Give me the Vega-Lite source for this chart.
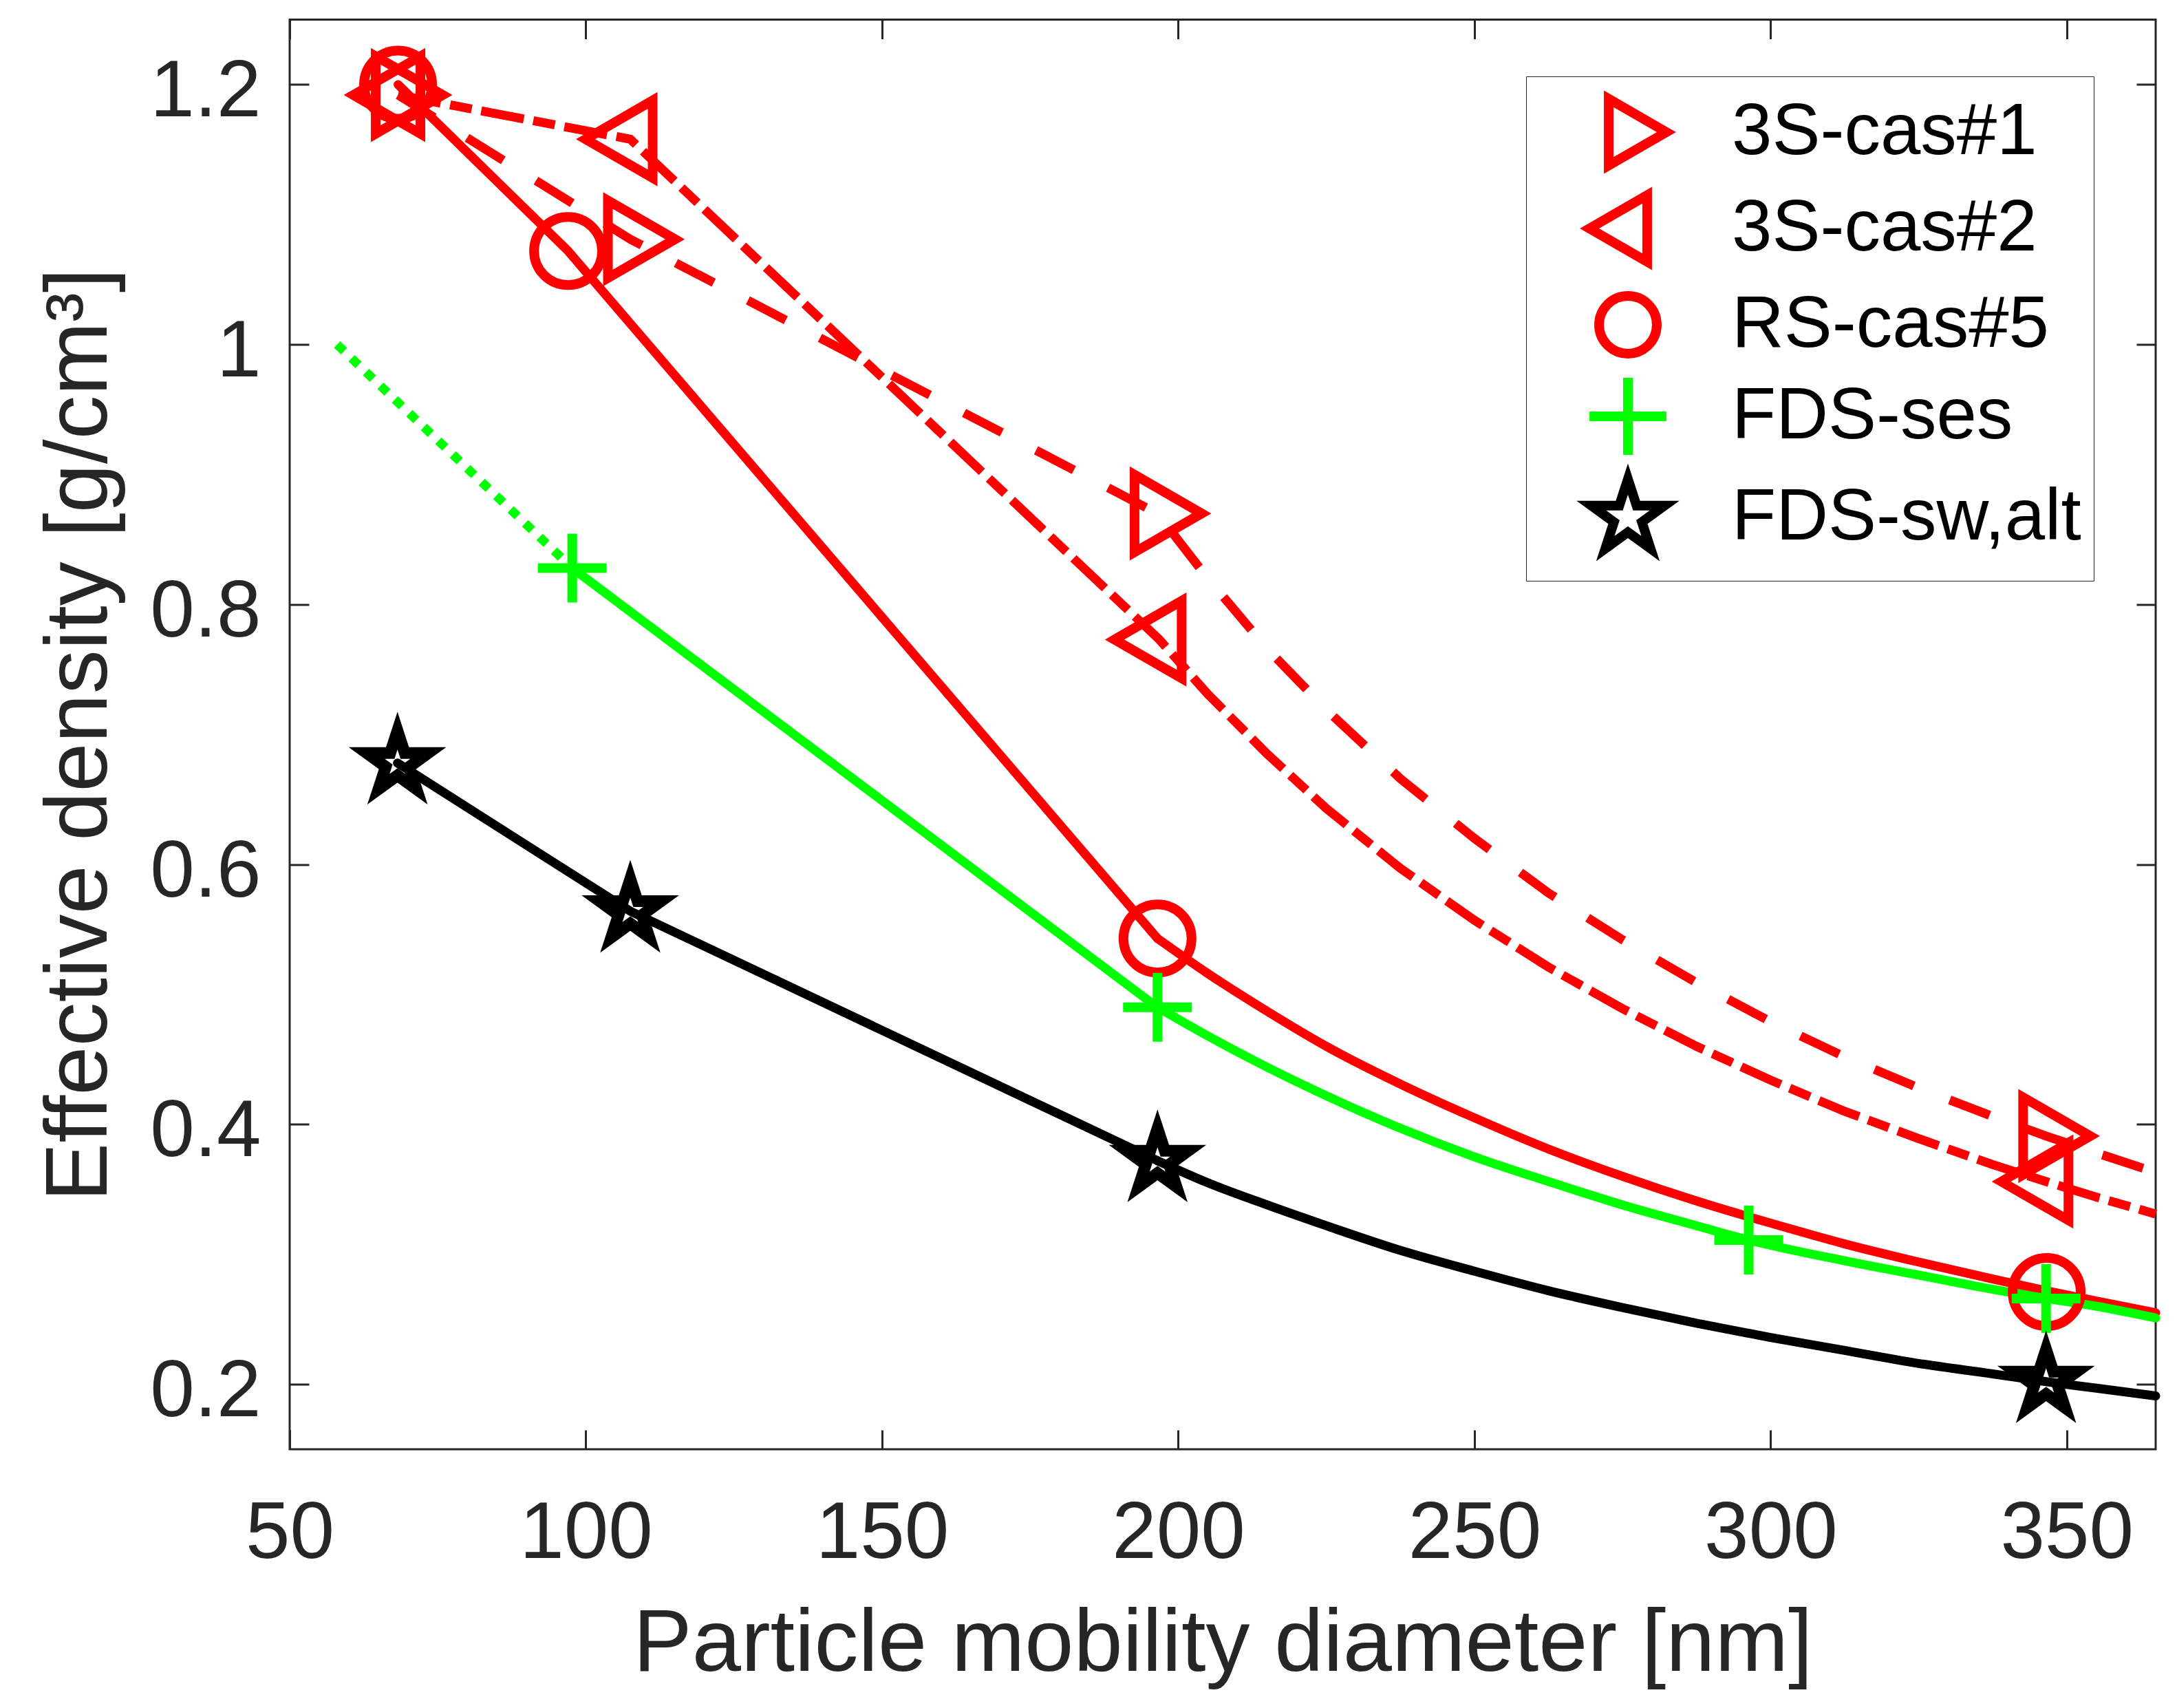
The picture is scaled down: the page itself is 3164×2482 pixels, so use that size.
{
  "$schema": "https://vega.github.io/schema/vega-lite/v6.json",
  "width": 2712,
  "height": 2077.5,
  "autosize": {"type": "none"},
  "padding": {"left": 421, "top": 28.5, "right": 31, "bottom": 376},
  "background": "white",
  "config": {
    "view": {"stroke": "#262626", "strokeWidth": 3},
    "font": "Liberation Sans",
    "axis": {
      "grid": false, "domain": false,
      "tickColor": "#262626", "tickWidth": 3, "tickSize": -28,
      "labelColor": "#262626", "titleColor": "#262626",
      "labelFont": "Liberation Sans", "titleFont": "Liberation Sans",
      "labelFontSize": 116, "titleFontSize": 128, "titleFontWeight": "normal",
      "labelLimit": 0, "titleLimit": 0
    }
  },
  "datasets": {
    "markers": [
      {"series": "3S-cas#1", "d": 68.3, "rho": 1.192},
      {"series": "3S-cas#1", "d": 107.5, "rho": 1.081},
      {"series": "3S-cas#1", "d": 196.4, "rho": 0.870},
      {"series": "3S-cas#1", "d": 346.4, "rho": 0.391},
      {"series": "3S-cas#2", "d": 68.3, "rho": 1.192},
      {"series": "3S-cas#2", "d": 107.5, "rho": 1.158},
      {"series": "3S-cas#2", "d": 196.8, "rho": 0.773},
      {"series": "3S-cas#2", "d": 346.5, "rho": 0.356},
      {"series": "RS-cas#5", "d": 68.3, "rho": 1.2},
      {"series": "RS-cas#5", "d": 97.0, "rho": 1.072},
      {"series": "RS-cas#5", "d": 196.5, "rho": 0.543},
      {"series": "RS-cas#5", "d": 346.6, "rho": 0.271},
      {"series": "FDS-ses", "d": 97.7, "rho": 0.828},
      {"series": "FDS-ses", "d": 196.5, "rho": 0.490},
      {"series": "FDS-ses", "d": 296.3, "rho": 0.311},
      {"series": "FDS-ses", "d": 346.5, "rho": 0.266},
      {"series": "FDS-sw,alt", "d": 68.2, "rho": 0.678},
      {"series": "FDS-sw,alt", "d": 107.5, "rho": 0.564},
      {"series": "FDS-sw,alt", "d": 196.5, "rho": 0.372},
      {"series": "FDS-sw,alt", "d": 346.5, "rho": 0.202}
    ],
    "lines": [
      {"line": "cas1", "d": 68.3, "rho": 1.192},
      {"line": "cas1", "d": 107.5, "rho": 1.081},
      {"line": "cas1", "d": 196.5, "rho": 0.870},
      {"line": "cas1", "d": 205, "rho": 0.820},
      {"line": "cas1", "d": 215, "rho": 0.766},
      {"line": "cas1", "d": 225, "rho": 0.719},
      {"line": "cas1", "d": 237.5, "rho": 0.666},
      {"line": "cas1", "d": 250, "rho": 0.620},
      {"line": "cas1", "d": 262.5, "rho": 0.578},
      {"line": "cas1", "d": 275, "rho": 0.542},
      {"line": "cas1", "d": 287.5, "rho": 0.509},
      {"line": "cas1", "d": 300, "rho": 0.479},
      {"line": "cas1", "d": 312.5, "rho": 0.452},
      {"line": "cas1", "d": 325, "rho": 0.428},
      {"line": "cas1", "d": 337.5, "rho": 0.406},
      {"line": "cas1", "d": 346.5, "rho": 0.391},
      {"line": "cas1", "d": 355, "rho": 0.378},
      {"line": "cas1", "d": 365, "rho": 0.363},
      {"line": "cas2", "d": 68.3, "rho": 1.192},
      {"line": "cas2", "d": 107.5, "rho": 1.158},
      {"line": "cas2", "d": 196.8, "rho": 0.773},
      {"line": "cas2", "d": 205, "rho": 0.731},
      {"line": "cas2", "d": 215, "rho": 0.685},
      {"line": "cas2", "d": 225, "rho": 0.643},
      {"line": "cas2", "d": 237.5, "rho": 0.597},
      {"line": "cas2", "d": 250, "rho": 0.557},
      {"line": "cas2", "d": 262.5, "rho": 0.521},
      {"line": "cas2", "d": 275, "rho": 0.489},
      {"line": "cas2", "d": 287.5, "rho": 0.460},
      {"line": "cas2", "d": 300, "rho": 0.434},
      {"line": "cas2", "d": 312.5, "rho": 0.410},
      {"line": "cas2", "d": 325, "rho": 0.389},
      {"line": "cas2", "d": 337.5, "rho": 0.369},
      {"line": "cas2", "d": 346.5, "rho": 0.356},
      {"line": "cas2", "d": 355, "rho": 0.344},
      {"line": "cas2", "d": 365, "rho": 0.331},
      {"line": "cas5a", "d": 68.3, "rho": 1.2},
      {"line": "cas5a", "d": 97.0, "rho": 1.072},
      {"line": "cas5a", "d": 196.5, "rho": 0.543},
      {"line": "cas5b", "d": 196.5, "rho": 0.543},
      {"line": "cas5b", "d": 205, "rho": 0.516},
      {"line": "cas5b", "d": 215, "rho": 0.487},
      {"line": "cas5b", "d": 225, "rho": 0.460},
      {"line": "cas5b", "d": 237.5, "rho": 0.431},
      {"line": "cas5b", "d": 250, "rho": 0.405},
      {"line": "cas5b", "d": 262.5, "rho": 0.381},
      {"line": "cas5b", "d": 275, "rho": 0.360},
      {"line": "cas5b", "d": 287.5, "rho": 0.341},
      {"line": "cas5b", "d": 300, "rho": 0.324},
      {"line": "cas5b", "d": 312.5, "rho": 0.308},
      {"line": "cas5b", "d": 325, "rho": 0.294},
      {"line": "cas5b", "d": 337.5, "rho": 0.281},
      {"line": "cas5b", "d": 346.5, "rho": 0.272},
      {"line": "cas5b", "d": 355, "rho": 0.264},
      {"line": "cas5b", "d": 365, "rho": 0.255},
      {"line": "sesa", "d": 97.7, "rho": 0.828},
      {"line": "sesa", "d": 196.5, "rho": 0.490},
      {"line": "sesb", "d": 196.5, "rho": 0.490},
      {"line": "sesb", "d": 205, "rho": 0.468},
      {"line": "sesb", "d": 215, "rho": 0.444},
      {"line": "sesb", "d": 225, "rho": 0.422},
      {"line": "sesb", "d": 237.5, "rho": 0.397},
      {"line": "sesb", "d": 250, "rho": 0.375},
      {"line": "sesb", "d": 262.5, "rho": 0.356},
      {"line": "sesb", "d": 275, "rho": 0.338},
      {"line": "sesb", "d": 287.5, "rho": 0.322},
      {"line": "sesb", "d": 296.3, "rho": 0.311},
      {"line": "sesb", "d": 312.5, "rho": 0.295},
      {"line": "sesb", "d": 325, "rho": 0.284},
      {"line": "sesb", "d": 337.5, "rho": 0.273},
      {"line": "sesb", "d": 346.5, "rho": 0.266},
      {"line": "sesb", "d": 355, "rho": 0.260},
      {"line": "sesb", "d": 365, "rho": 0.251},
      {"line": "sesdot", "d": 58, "rho": 1.0},
      {"line": "sesdot", "d": 97.7, "rho": 0.828},
      {"line": "swa", "d": 68.2, "rho": 0.678},
      {"line": "swa", "d": 107.5, "rho": 0.564},
      {"line": "swa", "d": 196.5, "rho": 0.372},
      {"line": "swb", "d": 196.5, "rho": 0.372},
      {"line": "swb", "d": 205, "rho": 0.355},
      {"line": "swb", "d": 215, "rho": 0.338},
      {"line": "swb", "d": 225, "rho": 0.322},
      {"line": "swb", "d": 237.5, "rho": 0.303},
      {"line": "swb", "d": 250, "rho": 0.287},
      {"line": "swb", "d": 262.5, "rho": 0.272},
      {"line": "swb", "d": 275, "rho": 0.259},
      {"line": "swb", "d": 287.5, "rho": 0.247},
      {"line": "swb", "d": 300, "rho": 0.236},
      {"line": "swb", "d": 312.5, "rho": 0.226},
      {"line": "swb", "d": 325, "rho": 0.216},
      {"line": "swb", "d": 337.5, "rho": 0.208},
      {"line": "swb", "d": 346.5, "rho": 0.202},
      {"line": "swb", "d": 355, "rho": 0.197},
      {"line": "swb", "d": 365, "rho": 0.191}
    ]
  },
  "layer": [
    {
      "data": {"name": "lines"},
      "transform": [{"filter": "datum.line === 'cas1'"}],
      "mark": {"type": "line", "color": "#FF0000", "strokeWidth": 13, "strokeDash": [62, 56], "strokeCap": "butt"},
      "encoding": {
        "x": {"field": "d", "type": "quantitative", "scale": {"domain": [50, 365], "nice": false, "zero": false},
              "axis": {"orient": "bottom", "values": [50, 100, 150, 200, 250, 300, 350], "title": "Particle mobility diameter [nm]", "labelPadding": 93, "titlePadding": 40, "labelFlush": false, "labelOverlap": false}},
        "y": {"field": "rho", "type": "quantitative", "scale": {"domain": [0.15, 1.25], "nice": false, "zero": false},
              "axis": {"orient": "left", "values": [0.2, 0.4, 0.6, 0.8, 1, 1.2], "format": "~g", "title": "Effective density [g/cm³]", "labelPadding": 70, "labelOffset": 11, "titlePadding": 40, "labelFlush": false, "labelOverlap": false}}
      }
    },
    {
      "data": {"name": "lines"},
      "transform": [{"filter": "datum.line === 'cas2'"}],
      "mark": {"type": "line", "color": "#FF0000", "strokeWidth": 13, "strokeDash": [63, 14, 32, 14], "strokeCap": "butt"},
      "encoding": {
        "x": {"field": "d", "type": "quantitative", "axis": {"orient": "top", "values": [50, 100, 150, 200, 250, 300, 350], "labels": false, "title": null}},
        "y": {"field": "rho", "type": "quantitative", "axis": {"orient": "right", "values": [0.2, 0.4, 0.6, 0.8, 1, 1.2], "labels": false, "title": null}}
      }
    },
    {
      "data": {"name": "lines"},
      "transform": [{"filter": "datum.line === 'cas5a'"}],
      "mark": {"type": "line", "color": "#FF0000", "strokeWidth": 13, "strokeCap": "round", "strokeJoin": "round"},
      "encoding": {
        "x": {"field": "d", "type": "quantitative", "axis": null},
        "y": {"field": "rho", "type": "quantitative", "axis": null}
      }
    },
    {
      "data": {"name": "lines"},
      "transform": [{"filter": "datum.line === 'cas5b'"}],
      "mark": {"type": "line", "color": "#FF0000", "strokeWidth": 13, "strokeCap": "round", "interpolate": "monotone"},
      "encoding": {
        "x": {"field": "d", "type": "quantitative", "axis": null},
        "y": {"field": "rho", "type": "quantitative", "axis": null}
      }
    },
    {
      "data": {"name": "lines"},
      "transform": [{"filter": "datum.line === 'sesa'"}],
      "mark": {"type": "line", "color": "#00FF00", "strokeWidth": 13, "strokeCap": "round"},
      "encoding": {
        "x": {"field": "d", "type": "quantitative", "axis": null},
        "y": {"field": "rho", "type": "quantitative", "axis": null}
      }
    },
    {
      "data": {"name": "lines"},
      "transform": [{"filter": "datum.line === 'sesb'"}],
      "mark": {"type": "line", "color": "#00FF00", "strokeWidth": 13, "strokeCap": "round", "interpolate": "monotone"},
      "encoding": {
        "x": {"field": "d", "type": "quantitative", "axis": null},
        "y": {"field": "rho", "type": "quantitative", "axis": null}
      }
    },
    {
      "data": {"name": "lines"},
      "transform": [{"filter": "datum.line === 'sesdot'"}],
      "mark": {"type": "line", "color": "#00FF00", "strokeWidth": 13, "strokeDash": [14, 15], "strokeCap": "butt"},
      "encoding": {
        "x": {"field": "d", "type": "quantitative", "axis": null},
        "y": {"field": "rho", "type": "quantitative", "axis": null}
      }
    },
    {
      "data": {"name": "lines"},
      "transform": [{"filter": "datum.line === 'swa'"}],
      "mark": {"type": "line", "color": "#000000", "strokeWidth": 13, "strokeCap": "round", "strokeJoin": "round"},
      "encoding": {
        "x": {"field": "d", "type": "quantitative", "axis": null},
        "y": {"field": "rho", "type": "quantitative", "axis": null}
      }
    },
    {
      "data": {"name": "lines"},
      "transform": [{"filter": "datum.line === 'swb'"}],
      "mark": {"type": "line", "color": "#000000", "strokeWidth": 13, "strokeCap": "round", "interpolate": "monotone"},
      "encoding": {
        "x": {"field": "d", "type": "quantitative", "axis": null},
        "y": {"field": "rho", "type": "quantitative", "axis": null}
      }
    },
    {
      "data": {"name": "markers"},
      "transform": [{"filter": "datum.series === '3S-cas#1' || datum.series === '3S-cas#2'"}],
      "mark": {"type": "point", "filled": false, "opacity": 1, "size": 16900, "strokeWidth": 14, "strokeJoin": "miter"},
      "encoding": {
        "x": {"field": "d", "type": "quantitative", "axis": null},
        "y": {"field": "rho", "type": "quantitative", "axis": null},
        "shape": {
          "field": "series", "type": "nominal",
          "scale": {
            "domain": ["3S-cas#1", "3S-cas#2", "RS-cas#5", "FDS-ses", "FDS-sw,alt"],
            "range": [
              "M1,0L-0.5,-0.866L-0.5,0.866Z",
              "M-1,0L0.5,-0.866L0.5,0.866Z",
              "M0.75,0A0.75,0.75 0 1,1 -0.75,0A0.75,0.75 0 1,1 0.75,0Z",
              "M-1,0L1,0M0,-1L0,1",
              "M0,-1L0.2245,-0.309L0.951,-0.309L0.363,0.118L0.588,0.809L0,0.382L-0.588,0.809L-0.363,0.118L-0.951,-0.309L-0.2245,-0.309Z"
            ]
          },
          "legend": {
            "orient": "none", "legendX": 1797, "legendY": 82.5, "direction": "vertical", "title": null,
            "labelFontSize": 105, "labelFont": "Liberation Sans", "labelColor": "#000000", "labelLimit": 0,
            "symbolSize": 12500, "symbolStrokeWidth": 14, "rowPadding": -50, "padding": 18,
            "symbolOffset": 67, "labelOffset": 88, "strokeColor": "#262626", "fillColor": "white",
            "encode": {
              "legend": {"strokeWidth": {"value": 3}},
              "symbols": {"fill": {"value": "transparent"}, "strokeJoin": {"value": "miter"}}
            }
          }
        },
        "color": {
          "field": "series", "type": "nominal",
          "scale": {
            "domain": ["3S-cas#1", "3S-cas#2", "RS-cas#5", "FDS-ses", "FDS-sw,alt"],
            "range": ["#FF0000", "#FF0000", "#FF0000", "#00FF00", "#000000"]
          },
          "legend": {
            "orient": "none", "legendX": 1797, "legendY": 82.5, "direction": "vertical", "title": null,
            "labelFontSize": 105, "labelFont": "Liberation Sans", "labelColor": "#000000", "labelLimit": 0,
            "symbolSize": 12500, "symbolStrokeWidth": 14, "rowPadding": -50, "padding": 18,
            "symbolOffset": 67, "labelOffset": 88, "strokeColor": "#262626", "fillColor": "white",
            "encode": {
              "legend": {"strokeWidth": {"value": 3}},
              "symbols": {"fill": {"value": "transparent"}, "strokeJoin": {"value": "miter"}}
            }
          }
        }
      }
    },
    {
      "data": {"name": "markers"},
      "transform": [{"filter": "datum.series === 'RS-cas#5'"}],
      "mark": {"type": "point", "filled": false, "opacity": 1, "size": 17424, "strokeWidth": 14},
      "encoding": {
        "x": {"field": "d", "type": "quantitative", "axis": null},
        "y": {"field": "rho", "type": "quantitative", "axis": null},
        "shape": {"field": "series", "type": "nominal"},
        "color": {"field": "series", "type": "nominal"}
      }
    },
    {
      "data": {"name": "markers"},
      "transform": [{"filter": "datum.series === 'FDS-ses'"}],
      "mark": {"type": "point", "filled": false, "opacity": 1, "size": 10000, "strokeWidth": 14, "strokeCap": "butt"},
      "encoding": {
        "x": {"field": "d", "type": "quantitative", "axis": null},
        "y": {"field": "rho", "type": "quantitative", "axis": null},
        "shape": {"field": "series", "type": "nominal"},
        "color": {"field": "series", "type": "nominal"}
      }
    },
    {
      "data": {"name": "markers"},
      "transform": [{"filter": "datum.series === 'FDS-sw,alt'"}],
      "mark": {"type": "point", "filled": false, "opacity": 1, "size": 8836, "strokeWidth": 17, "strokeJoin": "miter"},
      "encoding": {
        "x": {"field": "d", "type": "quantitative", "axis": null},
        "y": {"field": "rho", "type": "quantitative", "axis": null},
        "shape": {"field": "series", "type": "nominal"},
        "color": {"field": "series", "type": "nominal"}
      }
    }
  ],
  "resolve": {"axis": {"x": "independent", "y": "independent"}}
}
